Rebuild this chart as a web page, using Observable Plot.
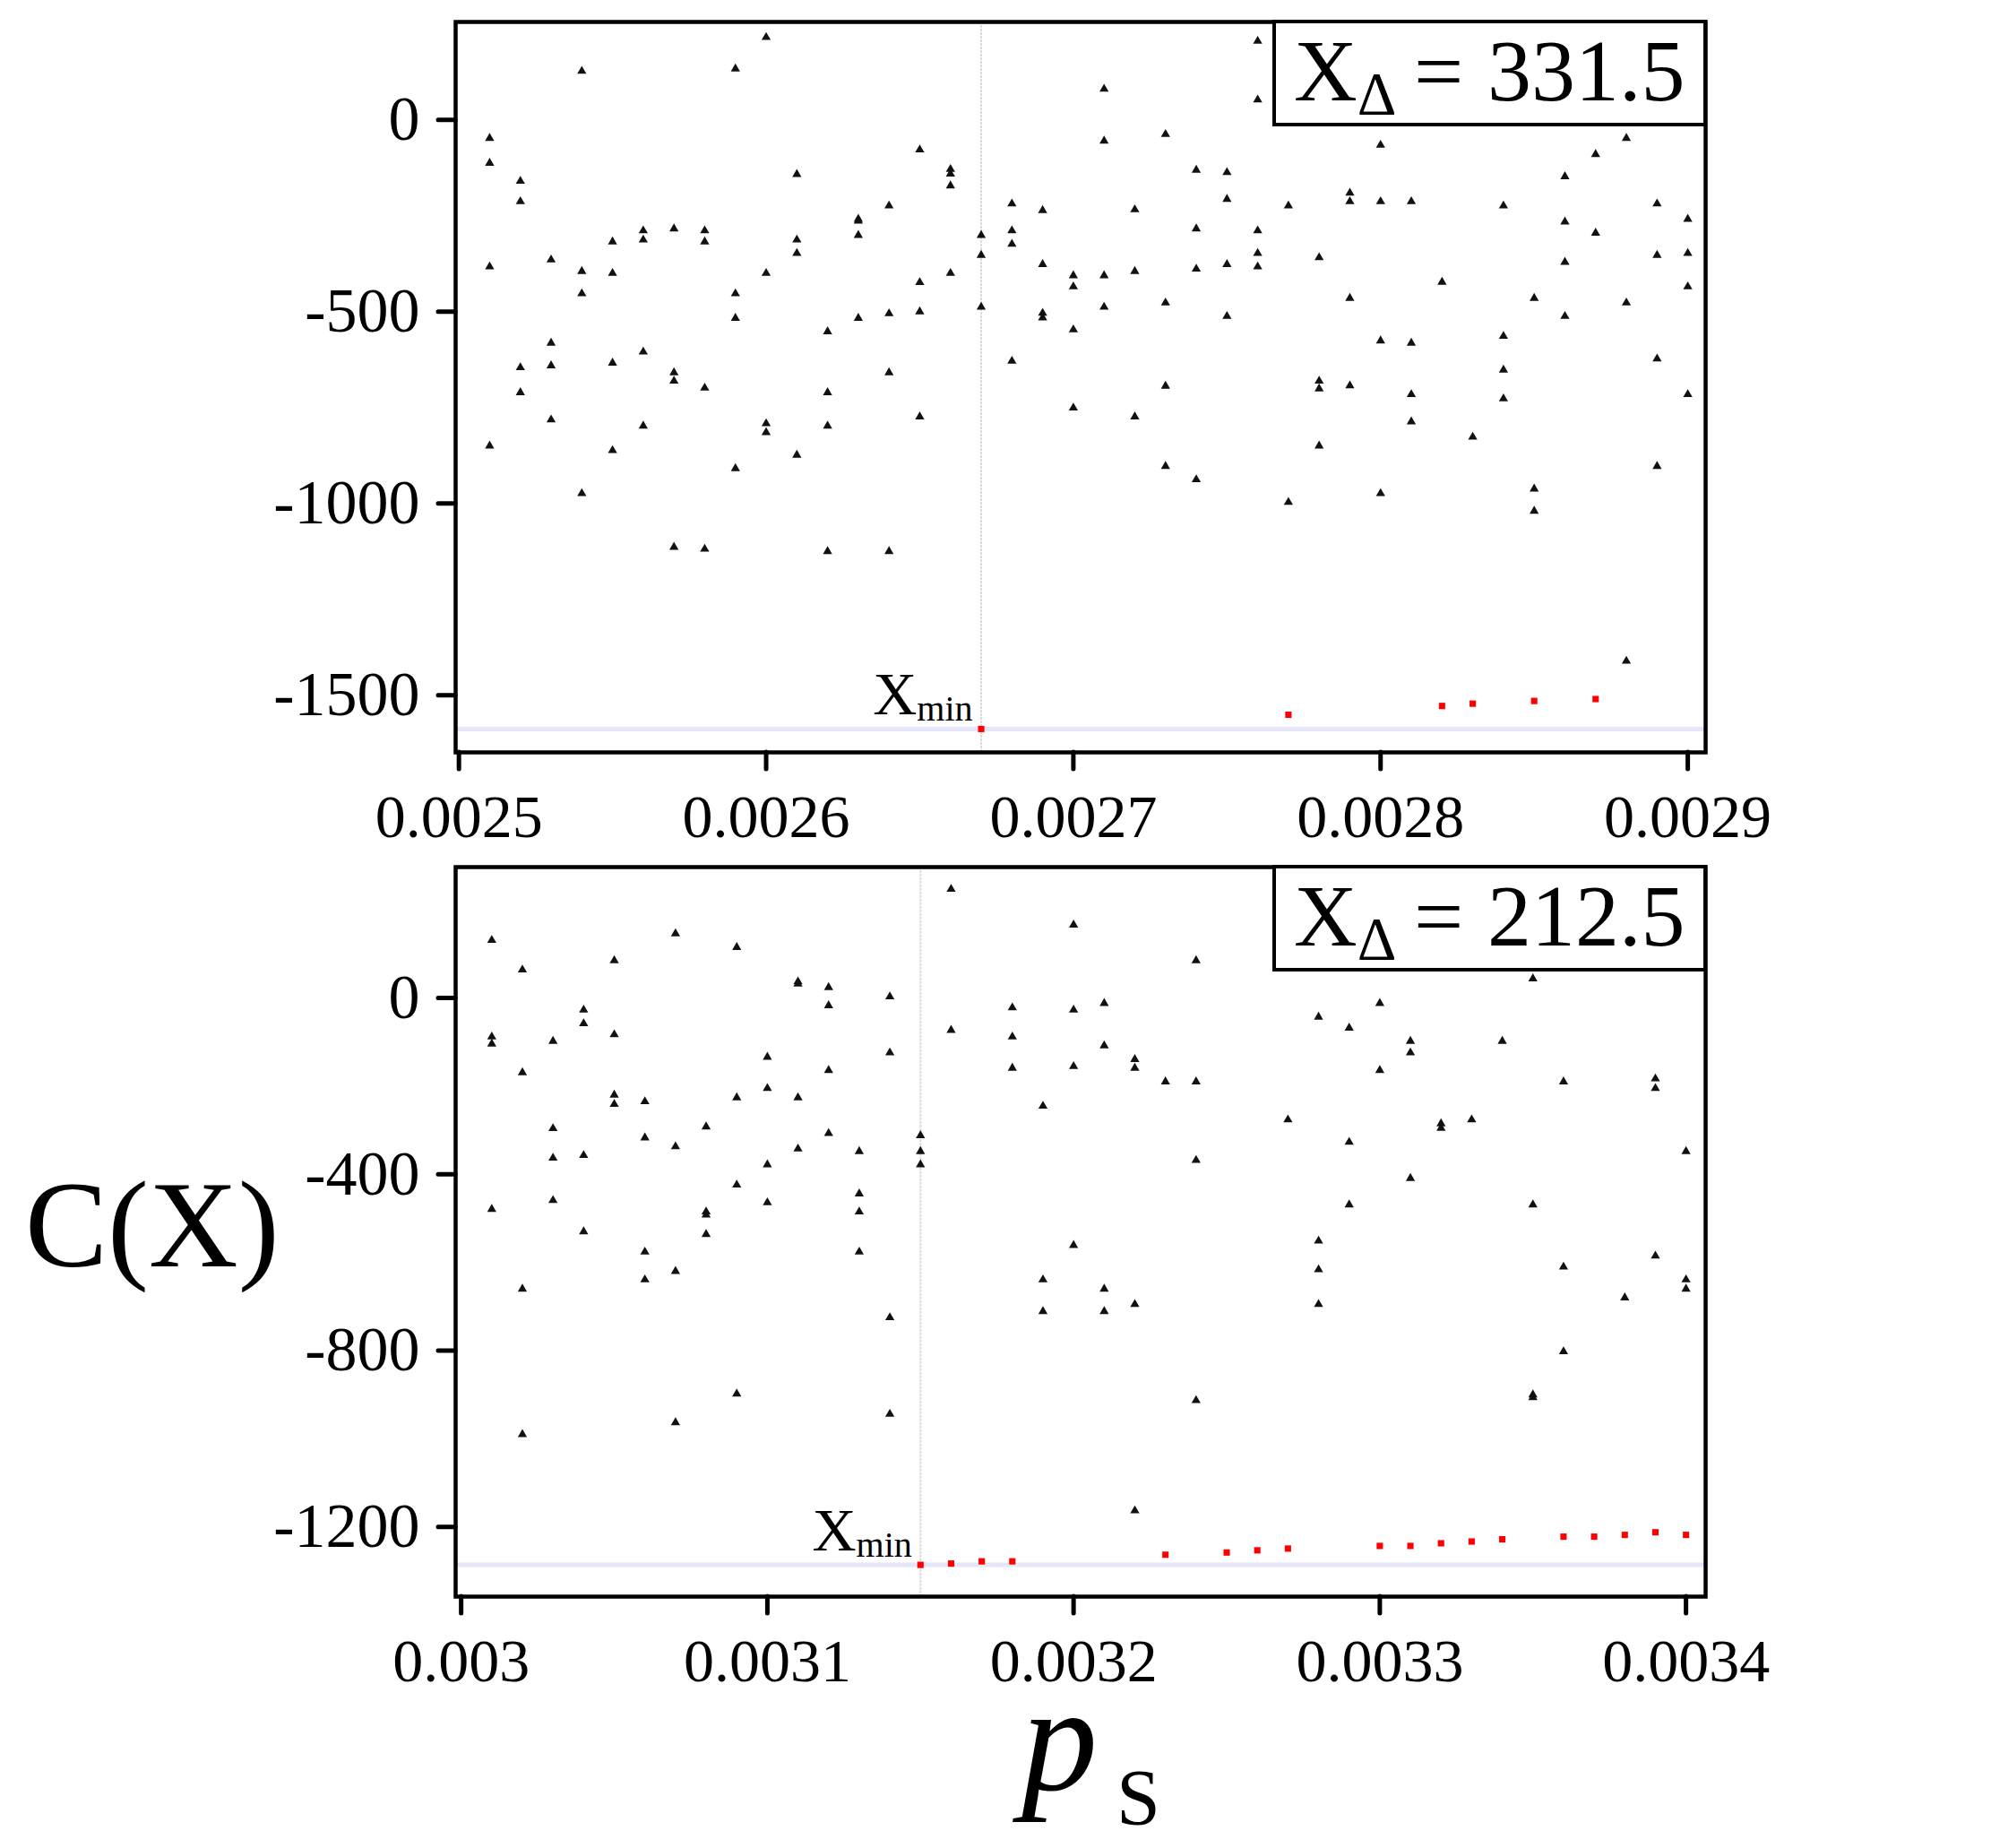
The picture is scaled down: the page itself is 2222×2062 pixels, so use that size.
<!DOCTYPE html>
<html><head><meta charset="utf-8">
<script src="https://cdn.jsdelivr.net/npm/d3@7"></script>
<script src="https://cdn.jsdelivr.net/npm/@observablehq/plot@0.6"></script>
<style>
body{margin:0;background:#fff;}
#chart{width:2222px;}
#chart svg{display:block;}
</style></head><body><div id="chart"></div>
<script>
const FONT = "'Liberation Serif','Times New Roman',Times,serif";

// ---------- top panel data ----------
const topPs = [0.00251,0.00252,0.00253,0.00254,0.00255,0.00256,0.00257,0.00258,0.00259,0.0026,
  0.00261,0.00262,0.00263,0.00264,0.00265,0.00266,0.00267,0.00268,0.00269,0.0027,
  0.00271,0.00272,0.00273,0.00274,0.00275,0.00276,0.00277,0.00278,0.00279,0.0028,
  0.00281,0.00282,0.00283,0.00284,0.00285,0.00286,0.00287,0.00288,0.00289,0.0029];
const topC = [
  [-48,-113,-383,-850],[-160,-213,-646,-711],[-365,-582,-641,-782],[127,-395,-453,-974],
  [-318,-400,-634,-862],[-289,-313,-605,-798],[-284,-659,-681,-1114],[-289,-318,-699,-1119],
  [133,-453,-517,-909],[215,-400,-792,-815],[-142,-313,-348,-874],[-552,-711,-798,-1125],
  [-259,-264,-301,-517],[-224,-505,-659,-1125],[-78,-424,-500,-774],[-129,-141,-172,-400],
  [-301,-353,-488],[-219,-289,-324,-629],[-236,-377,-504,-516],[-406,-435,-547,-751],
  [80,-55,-406,-488],[-234,-395,-774],[-38,-477,-694,-903],[-131,-284,-389,-938],
  [-137,-207,-377,-512],[205,52,-289,-348,-383],[-224,-997],[-359,-681,-701,-850],
  [-191,-213,-465,-693],[-66,-213,-576,-974],[-213,-582,-716,-787],[-423],
  [-827],[-224,-564,-652,-727],[-465,-962,-1020],[-148,-266,-371,-512],
  [-90,-295],[-48,-477,-1411],[-219,-353,-623,-903],[-259,-348,-435,-716]
];
const topRedPs = [0.00267,0.00277,0.00282,0.00283,0.00285,0.00287];
const topRedC = [-1588,-1551,-1528,-1522,-1515,-1510];
const topMinPs = 0.00267, topMinC = -1588;
const topXTicks = [0.0025,0.0026,0.0027,0.0028,0.0029];
const topXLabels = ["0.0025","0.0026","0.0027","0.0028","0.0029"];
const topYTicks = [0,-500,-1000,-1500];
const topXDelta = "331.5";

// ---------- bottom panel data ----------
const botPs = [0.00301,0.00302,0.00303,0.00304,0.00305,0.00306,0.00307,0.00308,0.00309,0.0031,
  0.00311,0.00312,0.00313,0.00314,0.00315,0.00316,0.00317,0.00318,0.00319,0.0032,
  0.00321,0.00322,0.00323,0.00324,0.00325,0.00326,0.00327,0.00328,0.00329,0.0033,
  0.00331,0.00332,0.00333,0.00334,0.00335,0.00336,0.00337,0.00338,0.00339,0.0034];
const botC = [
  [131,-88,-104,-479],[64,-169,-660,-990],[-98,-296,-363,-459],[-27,-58,-357,-530],
  [85,-83,-220,-241],[-235,-317,-576,-639],[146,-337,-620,-963],[-292,-485,-492,-536],
  [115,-226,-424,-898],[-134,-205,-378,-464],[37,32,-226,-342],[24,-17,-164,-307],
  [-348,-444,-485,-576],[3,-124,-725,-944],[-312,-348,-378],[247,-73],
  [],[-22,-88,-159],[-245,-639,-711],[166,-27,-155,-561],
  [-12,-108,-660,-711],[-139,-159,-695,-1163],[-190],[85,-190,-368,-913],
  [],[],[-276],[-43,-551,-616,-695],
  [-68,-327,-469],[-12,-164],[-98,-124,-409],[-285,-295],
  [-276],[-98],[44,-469,-900,-906],[-190,-610,-802],
  [],[-680],[-183,-205,-585],[-348,-639,-660]
];
const botRedPs = [0.00315,0.00316,0.00317,0.00318,0.00323,0.00325,0.00326,0.00327,0.0033,0.00331,
  0.00332,0.00333,0.00334,0.00336,0.00337,0.00338,0.00339,0.0034];
const botRedC = [-1286,-1283,-1278,-1278,-1263,-1258,-1253,-1249,-1243,-1243,
  -1237,-1233,-1228,-1222,-1222,-1218,-1212,-1218];
const botMinPs = 0.00315, botMinC = -1286;
const botXTicks = [0.003,0.0031,0.0032,0.0033,0.0034];
const botXLabels = ["0.003","0.0031","0.0032","0.0033","0.0034"];
const botYTicks = [0,-400,-800,-1200];
const botXDelta = "212.5";

function panel(o) {
  const black = o.ps.flatMap((p, i) => o.cvals[i].map(c => ({p, c})));
  const red = o.redPs.map((p, i) => ({p, c: o.redC[i]}));
  const xfmt = d => o.xLabels[o.xTicks.indexOf(d)];
  const yfmt = d => (d < 0 ? "-" + Math.abs(d) : String(d));
  const chart = Plot.plot({
    width: 2222, height: o.height,
    marginLeft: 508, marginRight: 319, marginTop: o.marginTop, marginBottom: o.marginBottom,
    style: {fontFamily: FONT, color: "#000", background: "#fff"},
    x: {domain: o.xDomain, label: null},
    y: {domain: o.yDomain, label: null},
    marks: [
      Plot.ruleY([o.minC], {stroke: "#e6e6fa", strokeWidth: 5}),
      Plot.ruleX([o.minPs], {stroke: "#dcdcdc", strokeWidth: 2, strokeDasharray: "3,1"}),
      Plot.dot(black, {x: "p", y: "c", symbol: "triangle", r: 3.8, fill: "#111", stroke: "none"}),
      Plot.dot(red, {x: "p", y: "c", symbol: "square", r: 4, fill: "#ff0000", stroke: "none"}),
      Plot.frame({stroke: "#000", strokeWidth: 4.5}),
      Plot.axisX({ticks: o.xTicks, tickFormat: xfmt, tickSize: 19, tickPadding: 27,
        strokeWidth: 5, strokeLinecap: "round", fontSize: 68, label: null}),
      Plot.axisY({ticks: o.yTicks, tickFormat: yfmt, tickSize: 19, tickPadding: 21,
        strokeWidth: 5, strokeLinecap: "round", fontSize: 70, label: null})
    ]
  });
  const sx = chart.scale("x"), sy = chart.scale("y");
  const svg = d3.select(chart);
  const right = sx.range[1], top = sy.range[1];

  // X_min label next to the minimum point
  const px = sx.apply(o.minPs), py = sy.apply(o.minC);
  const t = svg.append("text").attr("x", px - 9).attr("y", py - 16)
    .attr("text-anchor", "end").attr("font-family", FONT).attr("fill", "#000");
  t.append("tspan").attr("font-size", 68).text("X");
  t.append("tspan").attr("font-size", 40).attr("dy", 7).text("min");

  // X_Delta box in the top-right corner
  const bw = 481, bh = 115;
  svg.append("rect").attr("x", right - bw).attr("y", top).attr("width", bw).attr("height", bh)
    .attr("fill", "#fff").attr("stroke", "#000").attr("stroke-width", 4);
  const b = svg.append("text").attr("x", right - bw + 22).attr("y", top + 88)
    .attr("text-anchor", "start").attr("font-family", FONT).attr("fill", "#000");
  b.append("tspan").attr("font-size", 98).text("X");
  b.append("tspan").attr("font-size", 68).attr("dy", 15).text("Δ");
  b.append("tspan").attr("font-size", 98).attr("dy", -15).attr("x", right - bw + 156).text("=");
  b.append("tspan").attr("font-size", 98).attr("x", right - bw + 238).text(o.xDelta);
  return {chart, svg};
}

const topP = panel({
  ps: topPs, cvals: topC, redPs: topRedPs, redC: topRedC, minPs: topMinPs, minC: topMinC,
  xDomain: [0.00249893, 0.0029058], yDomain: [-1649, 255],
  xTicks: topXTicks, xLabels: topXLabels, yTicks: topYTicks, xDelta: topXDelta,
  height: 949, marginTop: 24, marginBottom: 110
});
const botP = panel({
  ps: botPs, cvals: botC, redPs: botRedPs, redC: botRedC, minPs: botMinPs, minC: botMinC,
  xDomain: [0.0029982, 0.0034064], yDomain: [-1358, 297],
  xTicks: botXTicks, xLabels: botXLabels, yTicks: botYTicks, xDelta: botXDelta,
  height: 1113, marginTop: 18, marginBottom: 281
});

// shared axis titles (in the bottom svg)
botP.svg.append("text").attr("x", 28).attr("y", 464).attr("text-anchor", "start")
  .attr("font-family", FONT).attr("font-size", 138).attr("fill", "#000").text("C(X)");
const ps = botP.svg.append("text").attr("x", 1140).attr("y", 1048).attr("text-anchor", "start")
  .attr("font-family", FONT).attr("fill", "#000");
ps.append("tspan").attr("font-size", 170).attr("font-style", "italic").text("p");
ps.append("tspan").attr("font-size", 88).attr("x", 1246).attr("dy", 38).text("S");

document.getElementById("chart").append(topP.chart, botP.chart);
</script>
</body></html>
